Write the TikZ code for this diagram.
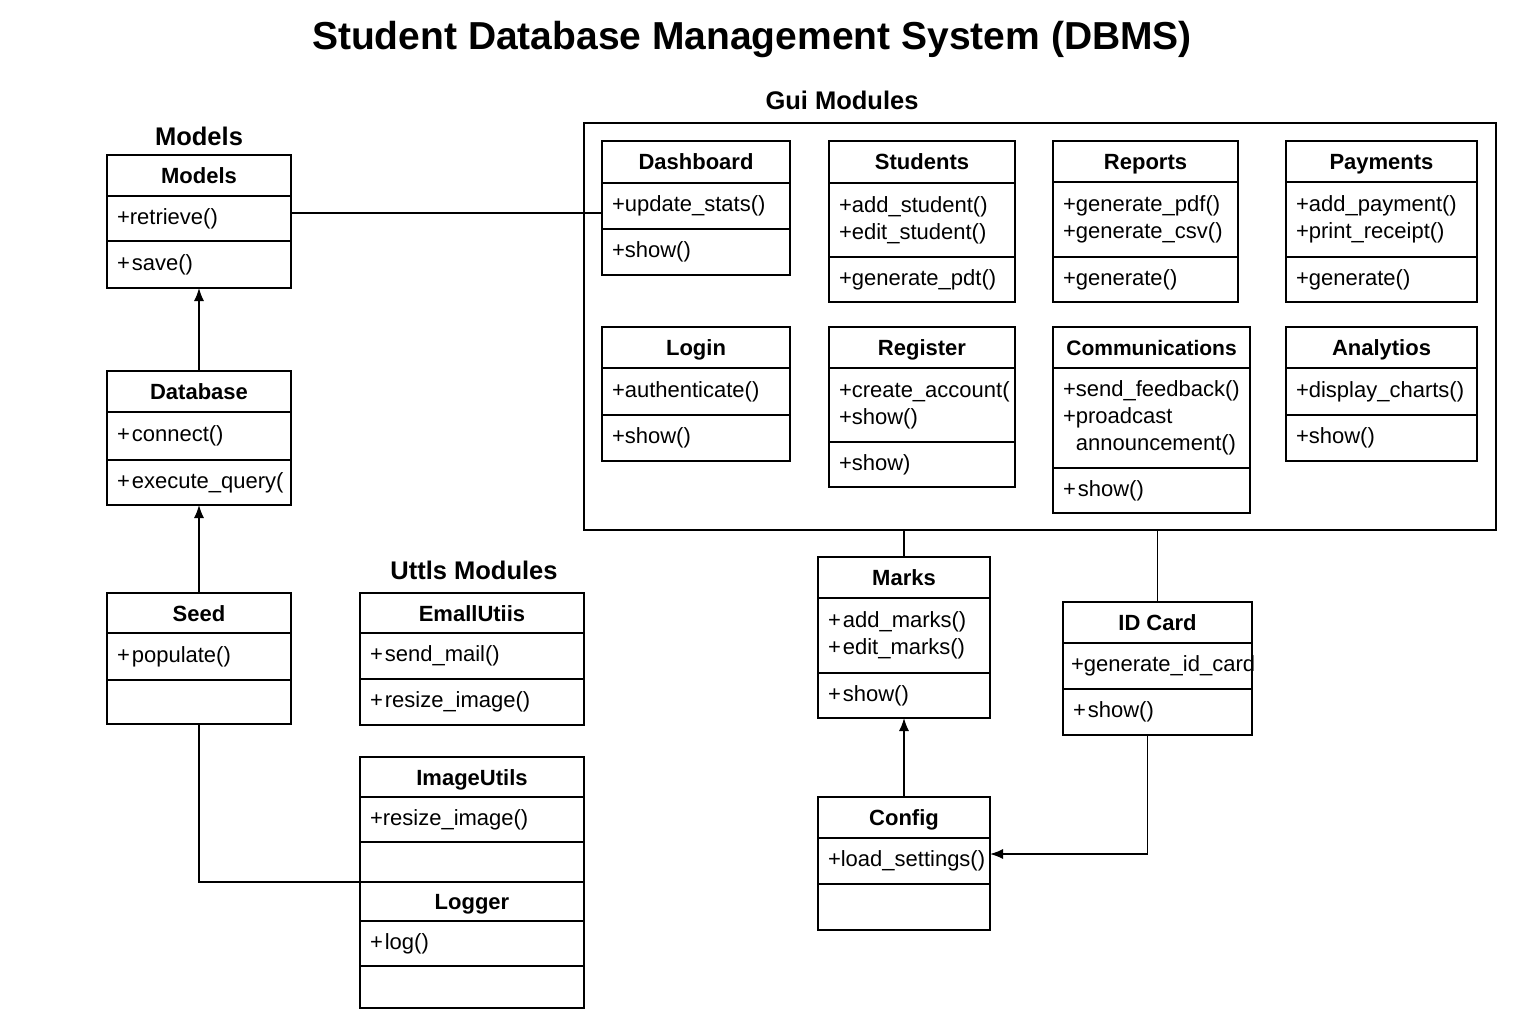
\documentclass[tikz,border=0pt]{standalone}
\usepackage{fontspec}
\setmainfont{Liberation Sans}
\usetikzlibrary{arrows.meta}
\newcommand{\plusm}{+\kern2pt}
\tikzset{
  hdr/.style n args={2}{draw, line width=1.6pt, anchor=north west, inner sep=0pt, outer sep=0pt,
    minimum width=#1pt, minimum height=#2pt, text height=18pt, text depth=2pt,
    font=\bfseries\fontsize{22}{26}\selectfont},
  cmp/.style n args={2}{draw, line width=1.6pt, anchor=north west, inner xsep=10pt, inner ysep=0pt, outer sep=0pt,
    text width=#1pt, minimum height=#2pt, align=left, font=\fontsize{22}{27}\selectfont},
  heading/.style={font=\bfseries\fontsize{25.5}{30}\selectfont},
  conn/.style={line width=1.4pt},
  arr/.style={line width=1.4pt, -{Latex[length=13pt,width=10pt]}},
}
\begin{document}
\begin{tikzpicture}[x=1pt,y=-1pt]
\useasboundingbox[fill=white] (0,0) rectangle (1536,1024);

\node[font=\bfseries\fontsize{39}{44}\selectfont] (title) at (752,40) {Student Database Management System (DBMS)};

% headings
\node[heading] (hmodels) at (199,136) {Models};
\node[heading] (hgui) at (842,100) {Gui Modules};
\node[heading] (hutils) at (474,570) {Uttls Modules};

% Gui frame
\node[draw, line width=1.6pt, anchor=north west, inner sep=0pt, outer sep=0pt, minimum width=912pt, minimum height=407pt] (gui) at (584,123) {};

% Models
\node[hdr={184}{41}] (models) at (107,155) {Models};
\node[cmp={164}{45}] (models-r1) at (models.south west) {+retrieve()};
\node[cmp={164}{47}] (models-r2) at (models-r1.south west) {\plusm save()};

% Database
\node[hdr={184}{41}] (db) at (107,371) {Database};
\node[cmp={164}{48}] (db-r1) at (db.south west) {\plusm connect()};
\node[cmp={164}{45}] (db-r2) at (db-r1.south west) {\plusm execute\_query(};

% Seed
\node[hdr={184}{40}] (seed) at (107,593) {Seed};
\node[cmp={164}{47}] (seed-r1) at (seed.south west) {\plusm populate()};
\node[cmp={164}{44}] (seed-r2) at (seed-r1.south west) {};

% EmallUtiis
\node[hdr={224}{40}] (email) at (360,593) {EmallUtiis};
\node[cmp={204}{46}] (email-r1) at (email.south west) {\plusm send\_mail()};
\node[cmp={204}{46}] (email-r2) at (email-r1.south west) {\plusm resize\_image()};

% ImageUtils
\node[hdr={224}{40}] (img) at (360,757) {ImageUtils};
\node[cmp={204}{45}] (img-r1) at (img.south west) {+resize\_image()};
\node[cmp={204}{40}] (img-r2) at (img-r1.south west) {};

% Logger
\node[hdr={224}{39}] (logger) at (360,882) {Logger};
\node[cmp={204}{45}] (logger-r1) at (logger.south west) {\plusm log()};
\node[cmp={204}{42}] (logger-r2) at (logger-r1.south west) {};

% Dashboard
\node[hdr={188}{42}] (dash) at (602,141) {Dashboard};
\node[cmp={168}{46}] (dash-r1) at (dash.south west) {+update\_stats()};
\node[cmp={168}{46}] (dash-r2) at (dash-r1.south west) {+show()};

% Students
\node[hdr={186}{42}] (stud) at (829,141) {Students};
\node[cmp={166}{74}] (stud-r1) at (stud.south west) {+add\_student()\\+edit\_student()};
\node[cmp={166}{45}] (stud-r2) at (stud-r1.south west) {+generate\_pdt()};

% Reports
\node[hdr={185}{41}] (rep) at (1053,141) {Reports};
\node[cmp={165}{75}] (rep-r1) at (rep.south west) {+generate\_pdf()\\+generate\_csv()};
\node[cmp={165}{45}] (rep-r2) at (rep-r1.south west) {+generate()};

% Payments
\node[hdr={191}{41}] (pay) at (1286,141) {Payments};
\node[cmp={171}{75}] (pay-r1) at (pay.south west) {+add\_payment()\\+print\_receipt()};
\node[cmp={171}{45}] (pay-r2) at (pay-r1.south west) {+generate()};

% Login
\node[hdr={188}{41}] (login) at (602,327) {Login};
\node[cmp={168}{47}] (login-r1) at (login.south west) {+authenticate()};
\node[cmp={168}{46}] (login-r2) at (login-r1.south west) {+show()};

% Register
\node[hdr={186}{41}] (reg) at (829,327) {Register};
\node[cmp={166}{74}] (reg-r1) at (reg.south west) {+create\_account(\\+show()};
\node[cmp={166}{45}] (reg-r2) at (reg-r1.south west) {+show)};

% Communications
\node[hdr={197}{41}, font=\bfseries\fontsize{21}{26}\selectfont] (comm) at (1053,327) {Communications};
\node[cmp={177}{100}] (comm-r1) at (comm.south west) {+send\_feedback()\\+proadcast\\\phantom{+}announcement()};
\node[cmp={177}{45}] (comm-r2) at (comm-r1.south west) {\plusm show()};

% Analytios
\node[hdr={191}{41}] (ana) at (1286,327) {Analytios};
\node[cmp={171}{47}] (ana-r1) at (ana.south west) {+display\_charts()};
\node[cmp={171}{46}] (ana-r2) at (ana-r1.south west) {+show()};

% Marks
\node[hdr={172}{41}] (marks) at (818,557) {Marks};
\node[cmp={152}{75}] (marks-r1) at (marks.south west) {\plusm add\_marks()\\\plusm edit\_marks()};
\node[cmp={152}{45}] (marks-r2) at (marks-r1.south west) {\plusm show()};

% ID Card
\node[hdr={189}{41}] (idc) at (1063,602) {ID Card};
\node[cmp={173}{46}, inner xsep=8pt] (idc-r1) at (idc.south west) {+generate\_id\_card};
\node[cmp={169}{46}] (idc-r2) at (idc-r1.south west) {\plusm show()};

% Config
\node[hdr={172}{41}] (config) at (818,797) {Config};
\node[cmp={152}{46}] (config-r1) at (config.south west) {+load\_settings()};
\node[cmp={152}{46}] (config-r2) at (config-r1.south west) {};

% connectors
\draw[conn] ([yshift=-7pt]dash-r1.west) -- ([yshift=-7pt]dash-r1.west -| models-r1.east);
\draw[arr] (db.north) -- (models-r2.south);
\draw[arr] (seed.north) -- (db-r2.south);
\draw[conn] (seed-r2.south) |- (logger.north west);
\draw[conn] (marks.north) -- (marks.north |- gui.south);
\draw[conn] (idc.north) -- (idc.north |- gui.south);
\draw[arr] (config.north) -- (marks-r2.south);
\draw[arr] ([xshift=-10pt]idc-r2.south) |- ([yshift=7pt]config-r1.east);
\end{tikzpicture}
\end{document}
